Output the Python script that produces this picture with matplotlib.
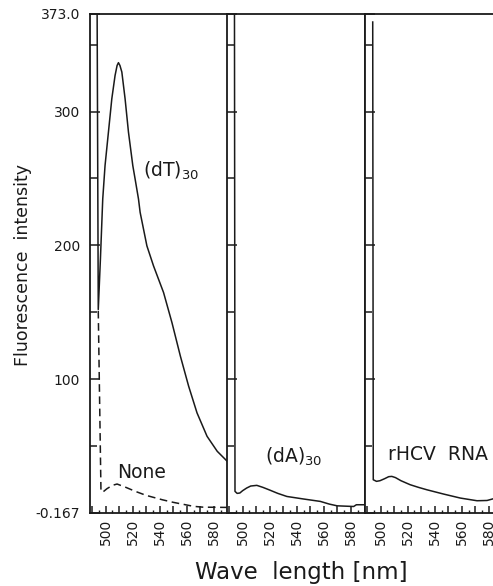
import matplotlib
matplotlib.use("Agg")
import matplotlib.pyplot as plt
from matplotlib.ticker import MultipleLocator, FixedLocator, FuncFormatter

# ---------------- data ----------------
y_min, y_max = -0.167, 373.0
x_min, x_max = 488.5, 590.0

# (dT)30 panel, solid
dT_x = [493.7, 494.6, 496.2, 497.9, 499.6, 502.1, 504.6, 507.0, 508.5, 509.5, 510.6,
        512.0, 514.4, 516.9, 520.1, 521.8, 524.3, 525.5, 530.5, 535.4, 542.8,
        549.0, 555.2, 561.3, 567.5, 574.9, 582.4, 589.8, 590.0]
dT_y = [390.0, 152.0, 190.0, 234.6, 259.6, 284.6, 309.6, 327.0, 334.5, 336.6, 334.5,
        329.6, 309.6, 284.6, 259.6, 249.6, 234.6, 224.7, 199.6, 184.6, 164.7,
        142.2, 117.2, 94.7, 74.7, 57.2, 46.0, 38.5, 38.3]

# None (buffer only), dashed, in first panel
none_x = [494.6, 496.6, 498.0, 501.0, 505.0, 508.5, 515.0, 522.0, 530.0, 542.0,
          550.0, 559.0, 565.0, 572.0, 590.0]
none_y = [151.0, 16.0, 15.5, 18.0, 20.5, 21.5, 19.0, 16.0, 13.0, 9.7,
          7.8, 6.0, 4.8, 4.2, 4.0]

# (dA)30 panel
dA_x = [494.0, 494.4, 496.0, 498.0, 500.0, 503.0, 506.0, 510.5, 515.0, 520.0, 526.0,
        532.7, 545.0, 557.4, 564.0, 569.8, 582.0, 584.0, 590.0]
dA_y = [390.0, 16.0, 14.5, 14.8, 16.5, 18.5, 20.0, 20.5, 19.0, 17.0, 14.5,
        12.2, 10.3, 8.5, 6.5, 5.2, 4.7, 6.0, 6.0]

# rHCV RNA panel
rh_x = [494.2, 494.6, 497.0, 499.6, 503.0, 506.0, 508.3, 511.0, 515.0, 521.8, 528.0,
        534.2, 546.5, 558.9, 571.2, 578.6, 583.3, 590.0]
rh_y = [367.0, 24.7, 23.5, 24.0, 25.5, 27.0, 27.2, 26.3, 24.0, 21.0, 19.0,
        17.2, 14.0, 11.0, 9.0, 9.2, 10.5, 12.0]

ytick_vals = [-0.167, 100, 200, 300, 373.0]
ytick_labels = ["-0.167", "100", "200", "300", "373.0"]
xtick_labels = [500, 520, 540, 560, 580]

# ---------------- figure ----------------
W, H = 493, 586
fig = plt.figure(figsize=(W / 100, H / 100), dpi=100)
fig.patch.set_facecolor("white")

ink = "#1a1a1a"
panel_left_px = [90, 227, 365]
panel_w_px = 137.5
top_px, bot_px = 14, 513

axes = []
for i, lp in enumerate(panel_left_px):
    ax = fig.add_axes([lp / W, 1 - bot_px / H, panel_w_px / W, (bot_px - top_px) / H])
    ax.set_xlim(x_min, x_max)
    ax.set_ylim(y_min, y_max)
    for s in ax.spines.values():
        s.set_linewidth(1.3)
        s.set_color(ink)
    # y ticks
    ax.yaxis.set_major_locator(FixedLocator(ytick_vals))
    ax.yaxis.set_minor_locator(FixedLocator([50, 150, 250, 350]))
    ax.tick_params(axis="y", which="major", direction="in", length=7, width=1.1,
                   color=ink, pad=7, labelsize=10, labelcolor=ink)
    ax.tick_params(axis="y", which="minor", direction="in", length=5, width=1.1, color=ink)
    if i == 0:
        ax.set_yticklabels(ytick_labels)
    else:
        ax.set_yticklabels([])
    # x ticks
    ax.xaxis.set_major_locator(MultipleLocator(10))
    ax.xaxis.set_minor_locator(MultipleLocator(5))
    ax.xaxis.set_major_formatter(FuncFormatter(
        lambda v, p: f"{int(round(v))}" if int(round(v)) in xtick_labels else ""))
    ax.tick_params(axis="x", which="major", direction="in", length=5, width=1.1,
                   color=ink, pad=4, labelsize=10, labelcolor=ink, labelrotation=90)
    ax.tick_params(axis="x", which="minor", direction="in", length=2.5, width=1.0, color=ink)
    axes.append(ax)

lw = 1.1
axes[0].plot(dT_x, dT_y, color=ink, lw=lw)
axes[0].plot(none_x, none_y, color=ink, lw=lw, linestyle=(0, (5, 3)))
axes[1].plot(dA_x, dA_y, color=ink, lw=lw)
axes[2].plot(rh_x, rh_y, color=ink, lw=lw)

fs = 13.5
axes[0].text(527.8, 251, r"(dT)$_{30}$", fontsize=fs, color=ink, ha="left", va="baseline")
axes[0].text(508.3, 26.2, "None", fontsize=fs, color=ink, ha="left", va="baseline")
axes[1].text(516.6, 37.5, r"(dA)$_{30}$", fontsize=fs, color=ink, ha="left", va="baseline")
axes[2].text(505.5, 39.7, "rHCV  RNA", fontsize=fs, color=ink, ha="left", va="baseline")

fig.text(23 / W, 1 - 265 / H, "Fluorescence  intensity", rotation=90, fontsize=12.5,
         color=ink, ha="center", va="center")
fig.text(301 / W, 1 - 572 / H, "Wave  length [nm]", fontsize=16.5, color=ink,
         ha="center", va="center")

fig.savefig("out.png", dpi=100, facecolor="white")
